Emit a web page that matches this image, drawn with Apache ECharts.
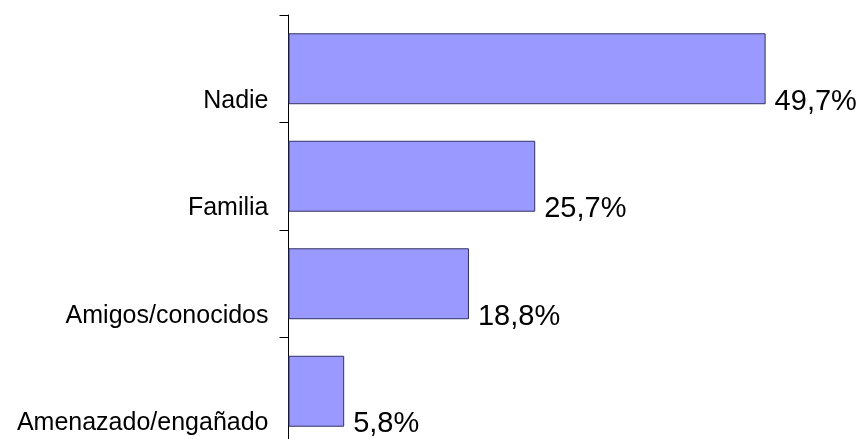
<!DOCTYPE html>
<html>
<head>
<meta charset="utf-8">
<script src="https://cdn.jsdelivr.net/npm/echarts@6/dist/echarts.min.js"></script>
<style>
  html, body { margin: 0; padding: 0; background: #fff; }
  #chart { width: 868px; height: 439px; }
</style>
</head>
<body>
<div id="chart"></div>
<script>
  // categorias (de arriba a abajo)
  var categories = ['Nadie', 'Familia', 'Amigos/conocidos', 'Amenazado/engañado'];
  // porcentajes
  var values = [49.7, 25.7, 18.8, 5.8];

  var myChart = echarts.init(document.getElementById('chart'));
  var options = {
    animation: false,
    textStyle: { fontFamily: 'Liberation Sans, Arial, sans-serif' },
    grid: {
      left: 288.5,
      top: 15,
      width: 480,
      height: 430,
      containLabel: false,
      outerBoundsMode: 'none'
    },
    xAxis: {
      type: 'value',
      min: 0,
      max: 50,
      show: false
    },
    yAxis: {
      type: 'category',
      inverse: true,
      data: categories,
      axisLine: { show: true, lineStyle: { color: '#000', width: 1 } },
      axisTick: { show: true, length: 9, lineStyle: { color: '#000', width: 1 } },
      axisLabel: {
        color: '#000',
        fontSize: 25,
        margin: 20,
        verticalAlign: 'top',
        lineHeight: 64
      }
    },
    series: [{
      type: 'bar',
      data: values,
      barCategoryGap: '34%',
      itemStyle: {
        color: '#9999FF',
        borderColor: '#333366',
        borderWidth: 1
      },
      label: {
        show: true,
        position: 'right',
        distance: 9,
        offset: [0, 33],
        color: '#000',
        fontSize: 29,
        formatter: function (p) {
          return p.value.toFixed(1).replace('.', ',') + '%';
        }
      }
    }]
  };
  myChart.setOption(options);
</script>
</body>
</html>
